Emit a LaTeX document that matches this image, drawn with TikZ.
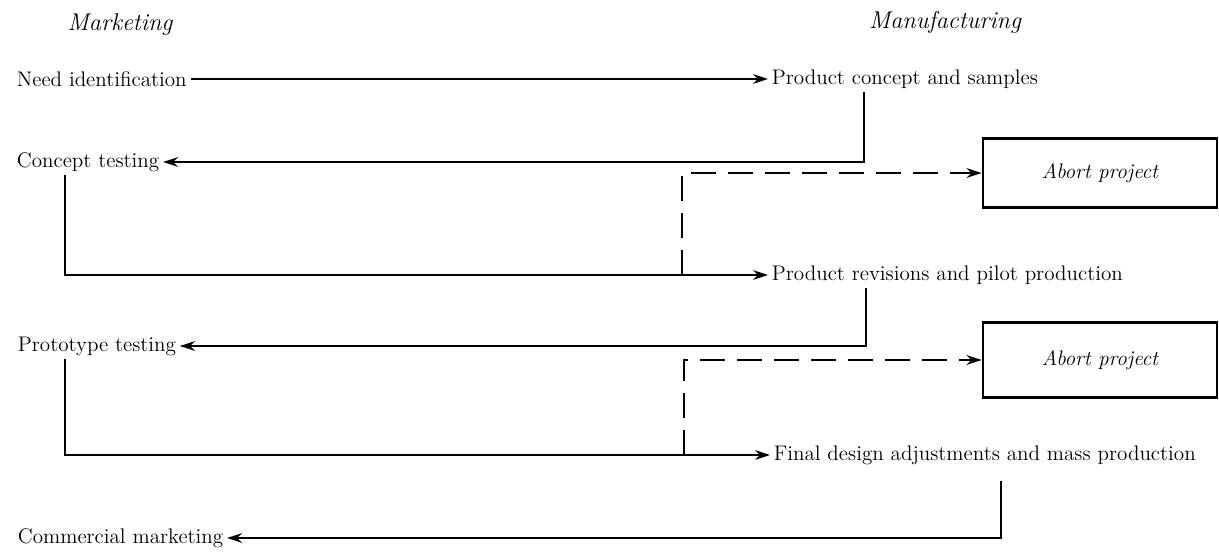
\documentclass[tikz,border=0pt]{standalone}
\usepackage{tikz}
\usetikzlibrary{arrows.meta, positioning, calc}

\begin{document}
\begin{tikzpicture}[
    every node/.style={font=\large},
    etapa/.style={
        anchor=west,
        inner sep=2pt
    },
    cabecalho/.style={
        font=\fontsize{13.8}{16}\selectfont\itshape
    },
    abortar/.style={
        draw=black,
        line width=1.6pt,
        minimum width=4.68cm,
        font=\large\itshape
    },
    fluxo/.style={
        draw=black,
        line width=1.1pt,
        ->,
        >={Stealth[length=8.5pt,width=5.5pt]}
    },
    desvio/.style={
        fluxo,
        line width=1.3pt,
        dash pattern=on 0.5cm off 0.24cm
    }
]

\useasboundingbox (0,0) rectangle (24.38,-11.08);

% ============================================================
% CABEÇALHOS
% ============================================================

\node[cabecalho] (marketing) at (2.4,-0.5) {Marketing};

\node[cabecalho] (manufacturing) at (18.9,-0.44) {Manufacturing};

% ============================================================
% ETAPAS
% ============================================================

\node[etapa] (need) at (0.26,-1.58) {Need identification};

\node[etapa] (prodconcept) at (15.36,-1.58) {Product concept and samples};

\node[etapa] (concept) at (0.26,-3.24) {Concept testing};

\node[etapa] (revisions) at (15.36,-5.5) {Product revisions and pilot production};

\node[etapa] (prototype) at (0.28,-6.92) {Prototype testing};

\node[etapa] (final) at (15.4,-9.1) {Final design adjustments and mass production};

\node[etapa] (commercial) at (0.28,-10.76) {Commercial marketing};

% Caixas de abandono
\node[
    abortar,
    minimum height=1.38cm
] (abortA) at (22.0,-3.46)
{Abort project};

\node[
    abortar,
    minimum height=1.5cm
] (abortB) at (22.0,-7.2)
{Abort project};

% ============================================================
% LIGAÇÕES
% ============================================================

\draw[fluxo] (need.east) -- (prodconcept.west);

\draw[fluxo]
([xshift=1.92cm]prodconcept.south west) |- (concept.east);

\draw[fluxo]
([xshift=1.04cm]concept.south west) |- (revisions.west);

% Primeiro desvio
\draw[desvio]
([xshift=-1.72cm]revisions.west) |- (abortA.west);

\draw[fluxo]
([xshift=1.96cm]revisions.south west) |- (prototype.east);

\draw[fluxo]
([xshift=1.02cm]prototype.south west) |- (final.west);

% Segundo desvio
\draw[desvio]
([xshift=-1.72cm]final.west) |- (abortB.west);

\draw[fluxo]
([xshift=4.62cm,yshift=-0.26cm]final.south west) |- (commercial.east);

\end{tikzpicture}
\end{document}
